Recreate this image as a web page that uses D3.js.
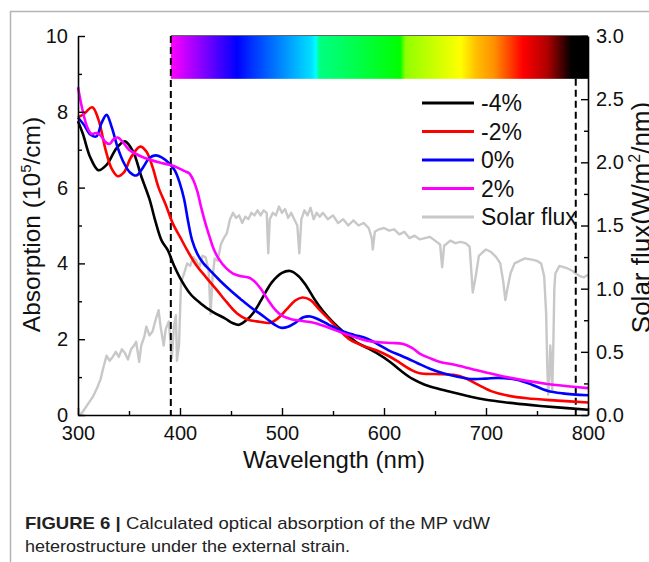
<!DOCTYPE html>
<html><head><meta charset="utf-8">
<script src="https://cdn.jsdelivr.net/npm/d3@7"></script>
<style>body{margin:0;background:#fff;} svg{display:block;font-family:'Liberation Sans',Arial,sans-serif;}</style>
</head><body>
<svg id="chart" width="649" height="562"></svg>
<script>
// ---------- data ----------
const wavelengthTicks = [300, 400, 500, 600, 700, 800];
const wavelengthMinor = [350, 450, 550, 650, 750];
const absorptionTicks = [0, 2, 4, 6, 8, 10];
const absorptionMinor = [1, 3, 5, 7, 9];
const fluxTicks = [0, 0.5, 1.0, 1.5, 2.0, 2.5, 3.0];
const fluxMinor = [0.25, 0.75, 1.25, 1.75, 2.25, 2.75];

const seriesNames = ["-4%", "-2%", "0%", "2%"];
const seriesColors = ["#000000", "#ff0000", "#0000ff", "#ff00ff"];

const strainM4 = [[300,7.75],[305,7.4],[312,6.8],[320,6.46],[328,6.6],[338,7.05],[346,7.22],[354,6.95],[362,6.3],[370,5.7],[376,5.1],[382,4.6],[388,4.35],[394,3.95],[400,3.62],[410,3.2],[420,2.95],[432,2.72],[444,2.55],[452,2.42],[458,2.38],[465,2.5],[472,2.7],[480,3.05],[490,3.5],[500,3.75],[508,3.8],[516,3.67],[524,3.4],[532,3.05],[540,2.75],[550,2.45],[560,2.2],[573,1.92],[585,1.75],[595,1.6],[606,1.4],[616,1.18],[628,0.95],[640,0.8],[655,0.68],[670,0.58],[685,0.48],[700,0.4],[720,0.33],[745,0.26],[770,0.2],[800,0.14]];
const strainM2 = [[300,7.85],[306,7.95],[314,8.12],[320,7.8],[327,7.0],[333,6.5],[339,6.3],[345,6.4],[352,6.8],[361,7.08],[367,6.95],[373,6.55],[379,6.0],[386,5.55],[393,5.05],[400,4.7],[407,4.35],[416,3.95],[426,3.62],[436,3.3],[446,2.97],[456,2.68],[466,2.52],[478,2.46],[488,2.43],[496,2.55],[505,2.8],[513,3.02],[520,3.1],[528,3.03],[536,2.8],[547,2.5],[557,2.22],[567,1.98],[580,1.82],[593,1.7],[605,1.55],[616,1.37],[626,1.2],[635,1.1],[650,1.08],[668,1.06],[680,0.97],[692,0.8],[705,0.63],[720,0.52],[740,0.44],[770,0.38],[800,0.33]];
const strain0 = [[300,7.85],[306,7.65],[312,7.4],[318,7.35],[323,7.7],[328,7.92],[333,7.6],[339,7.05],[345,6.65],[351,6.4],[357,6.32],[363,6.5],[370,6.78],[376,6.85],[382,6.8],[389,6.65],[395,6.45],[400,6.1],[404,5.7],[408,5.1],[412,4.6],[417,4.25],[423,4.0],[429,3.83],[439,3.55],[449,3.3],[459,3.07],[469,2.85],[478,2.68],[486,2.52],[493,2.38],[499,2.3],[506,2.33],[514,2.45],[521,2.58],[528,2.6],[536,2.52],[546,2.38],[557,2.24],[570,2.12],[583,2.02],[595,1.85],[605,1.7],[618,1.55],[632,1.38],[645,1.22],[658,1.1],[670,1.02],[685,0.95],[700,0.96],[712,0.98],[730,0.93],[745,0.8],[760,0.64],[775,0.57],[800,0.52]];
const strainP2 = [[300,8.65],[304,8.1],[309,7.6],[313,7.42],[318,7.44],[322,7.38],[327,7.2],[331,7.15],[335,7.28],[339,7.32],[344,7.2],[350,7.0],[356,6.9],[362,6.82],[370,6.74],[380,6.66],[390,6.6],[398,6.52],[404,6.44],[409,6.38],[413,6.2],[417,5.9],[421,5.45],[425,5.05],[429,4.7],[433,4.38],[438,4.12],[445,3.88],[452,3.73],[460,3.66],[468,3.62],[474,3.5],[480,3.3],[486,3.05],[492,2.82],[500,2.62],[510,2.52],[520,2.48],[530,2.44],[540,2.36],[550,2.26],[560,2.16],[572,2.05],[583,1.96],[595,1.92],[608,1.9],[618,1.88],[627,1.78],[635,1.62],[645,1.5],[655,1.4],[668,1.33],[685,1.22],[700,1.12],[720,1.0],[740,0.9],[760,0.82],[780,0.76],[800,0.71]];
const solarFlux = [[302,0.0],[305,0.03],[310,0.09],[315,0.15],[319,0.22],[322,0.28],[325,0.38],[328,0.47],[331,0.43],[334,0.46],[337,0.5],[340,0.46],[343,0.52],[346,0.49],[349,0.44],[352,0.52],[355,0.55],[357,0.58],[360,0.42],[362,0.55],[365,0.62],[367,0.7],[370,0.63],[373,0.66],[376,0.75],[379,0.83],[381,0.7],[384,0.55],[386,0.68],[389,0.74],[392,0.45],[394,0.7],[396,0.79],[397,0.43],[399,0.55],[401,1.05],[404,1.12],[407,1.2],[410,1.18],[413,1.25],[416,1.22],[419,1.17],[422,1.26],[425,1.25],[428,1.15],[430,0.8],[432,1.1],[434,1.24],[437,1.22],[440,1.35],[443,1.4],[446,1.44],[449,1.55],[452,1.6],[455,1.56],[458,1.58],[461,1.52],[464,1.57],[467,1.55],[470,1.6],[473,1.58],[476,1.62],[479,1.58],[482,1.62],[485,1.6],[486.5,1.28],[488,1.55],[491,1.6],[494,1.58],[497,1.65],[500,1.6],[503,1.63],[506,1.56],[509,1.6],[512,1.55],[515,1.5],[517,1.28],[519,1.55],[522,1.62],[525,1.58],[528,1.64],[531,1.55],[534,1.6],[537,1.57],[540,1.6],[545,1.55],[550,1.58],[555,1.52],[560,1.55],[565,1.5],[570,1.54],[575,1.5],[580,1.52],[585,1.48],[588,1.4],[589,1.31],[591,1.45],[595,1.47],[600,1.48],[605,1.46],[610,1.47],[615,1.43],[620,1.45],[625,1.4],[630,1.42],[635,1.39],[640,1.4],[645,1.41],[650,1.38],[655,1.35],[657,1.17],[659,1.34],[665,1.38],[670,1.36],[675,1.37],[680,1.36],[684,1.33],[687,0.97],[690,1.1],[693,1.26],[697,1.29],[700,1.31],[705,1.29],[710,1.25],[714,1.2],[717,1.05],[719,0.91],[721,1.0],[724,1.12],[728,1.2],[733,1.22],[738,1.24],[745,1.23],[750,1.22],[754,1.2],[757,1.1],[759,0.8],[760,0.4],[761,0.16],[762,0.3],[763,0.55],[764,0.42],[765,0.2],[766,0.55],[767,1.0],[768,1.12],[772,1.18],[776,1.17],[780,1.16],[785,1.14],[788,1.12],[792,1.1],[796,1.09],[800,1.11]];

const visibleRange = [391, 788];          // dashed boundaries (nm)
const spectrumStops = [391, 456, 470, 529, 533, 537, 560, 616, 621, 675, 690, 708, 736, 760, 784, 800];
const spectrumColors = ["#ff00ff","#0000ff","#0030ff","#00e0ff","#00ffff","#00ff80","#00ff60","#00ff00","#90ff00","#ffff00","#ffc000","#ff9000","#ff0000","#b00000","#000000","#000000"];
const spectrumBottom = 8.87;               // absorption units

// ---------- layout ----------
const svg = d3.select("#chart");
const L = 78, R = 588, T = 36, B = 415;
const x = d3.scaleLinear().domain([300, 800]).range([L, R]);
const y = d3.scaleLinear().domain([0, 10]).range([B, T]);
const y2 = d3.scaleLinear().domain([0, 3]).range([B, T]);

// frame
svg.append("line").attr("x1",10).attr("x2",649).attr("y1",11.5).attr("y2",11.5).attr("stroke","#b4b4b4").attr("stroke-width",1.5);
svg.append("line").attr("x1",10.5).attr("x2",10.5).attr("y1",11).attr("y2",562).attr("stroke","#b4b4b4").attr("stroke-width",1.5);

// spectrum bar
const defs = svg.append("defs");
const grad = defs.append("linearGradient").attr("id","spec").attr("gradientUnits","userSpaceOnUse")
  .attr("x1", x(spectrumStops[0])).attr("x2", x(800)).attr("y1",0).attr("y2",0);
spectrumStops.forEach((s,i)=>{
  grad.append("stop").attr("offset",(s-spectrumStops[0])/(800-spectrumStops[0])).attr("stop-color",spectrumColors[i]);
});
svg.append("rect").attr("x", x(visibleRange[0])).attr("y", y(10)).attr("width", x(800)-x(visibleRange[0]))
  .attr("height", y(spectrumBottom)-y(10)).attr("fill","url(#spec)");
svg.append("line").attr("x1", x(visibleRange[0])).attr("x2", R).attr("y1", T-0.5).attr("y2", T-0.5).attr("stroke","#666").attr("stroke-width",1);

// solar flux
svg.append("path").datum(solarFlux)
  .attr("d", d3.line().x(d=>x(d[0])).y(d=>y2(d[1])))
  .attr("fill","none").attr("stroke","#c8c8c8").attr("stroke-width",2.4).attr("stroke-linejoin","round");

// dashed lines
svg.append("line").attr("x1",x(visibleRange[0])).attr("x2",x(visibleRange[0])).attr("y1",T).attr("y2",B)
  .attr("stroke","#000").attr("stroke-width",2).attr("stroke-dasharray","7,4");
svg.append("line").attr("x1",x(visibleRange[1])).attr("x2",x(visibleRange[1])).attr("y1",y(spectrumBottom)).attr("y2",B)
  .attr("stroke","#000").attr("stroke-width",2).attr("stroke-dasharray","7,4");

// strain curves
const curveLine = d3.line().x(d=>x(d[0])).y(d=>y(d[1])).curve(d3.curveCatmullRom.alpha(0.5));
[strainM4, strainM2, strain0, strainP2].forEach((s,i)=>{
  svg.append("path").datum(s).attr("d", curveLine).attr("fill","none")
    .attr("stroke", seriesColors[i]).attr("stroke-width",2.6);
});

// axes
const fontSize = 20;
function styleAxis(g){
  g.selectAll("path.domain").attr("stroke","#000").attr("stroke-width",1.6);
  g.selectAll(".tick line").attr("stroke","#000").attr("stroke-width",1.4);
  g.selectAll(".tick text").attr("font-size",fontSize).attr("font-family","'Liberation Sans',Arial,sans-serif").attr("fill","#111");
}
svg.append("g").attr("transform",`translate(0,${B})`)
  .call(d3.axisBottom(x).tickValues(wavelengthTicks).tickSize(-7).tickSizeOuter(0).tickPadding(11).tickFormat(d3.format("d")))
  .call(styleAxis);
svg.append("g").attr("transform",`translate(0,${B})`)
  .call(d3.axisBottom(x).tickValues(wavelengthMinor).tickSize(-4).tickSizeOuter(0).tickFormat(""))
  .call(styleAxis).select("path.domain").remove();
svg.append("g").attr("transform",`translate(${L},0)`)
  .call(d3.axisLeft(y).tickValues(absorptionTicks).tickSize(-7).tickSizeOuter(0).tickPadding(10).tickFormat(d3.format("d")))
  .call(styleAxis);
svg.append("g").attr("transform",`translate(${L},0)`)
  .call(d3.axisLeft(y).tickValues(absorptionMinor).tickSize(-4).tickSizeOuter(0).tickFormat(""))
  .call(styleAxis).select("path.domain").remove();
svg.append("g").attr("transform",`translate(${R},0)`)
  .call(d3.axisRight(y2).tickValues(fluxTicks).tickSize(-7).tickSizeOuter(0).tickPadding(8).tickFormat(d3.format(".1f")))
  .call(styleAxis);
svg.append("g").attr("transform",`translate(${R},0)`)
  .call(d3.axisRight(y2).tickValues(fluxMinor).tickSize(-4).tickSizeOuter(0).tickFormat(""))
  .call(styleAxis).select("path.domain").remove();

// axis titles
svg.append("text").attr("x", (L+R)/2 + 1).attr("y", 468).attr("text-anchor","middle")
  .attr("font-size",24).attr("fill","#111").text("Wavelength (nm)");
const yt = svg.append("text").attr("transform",`translate(40,${(T+B)/2-1}) rotate(-90)`).attr("text-anchor","middle")
  .attr("font-size",24.5).attr("fill","#111");
yt.append("tspan").text("Absorption (10");
yt.append("tspan").attr("font-size",15).attr("dy",-9).text("5");
yt.append("tspan").attr("dy",9).text("/cm)");
const rt = svg.append("text").attr("transform",`translate(650,${(T+B)/2-8}) rotate(-90)`).attr("text-anchor","middle")
  .attr("font-size",26).attr("fill","#111");
rt.append("tspan").text("Solar flux(W/m");
rt.append("tspan").attr("font-size",16).attr("dy",-10).text("2");
rt.append("tspan").attr("dy",10).text("/nm)");

// legend
const legendItems = seriesNames.map((n,i)=>({name:n,color:seriesColors[i]})).concat([{name:"Solar flux",color:"#c8c8c8"}]);
const lg = svg.append("g");
legendItems.forEach((d,i)=>{
  const yy = 103 + i*28.5;
  lg.append("line").attr("x1",422).attr("x2",474).attr("y1",yy).attr("y2",yy).attr("stroke",d.color).attr("stroke-width",3);
  lg.append("text").attr("x",481).attr("y",yy).attr("dy","0.35em").attr("font-size",23).attr("fill","#111").text(d.name);
});

// caption
const c1 = svg.append("text").attr("x",25).attr("y",529).attr("font-size",17).attr("fill","#222")
  .attr("font-family","'Liberation Sans Narrow','Arial Narrow','Liberation Sans',Arial,sans-serif")
  .attr("textLength",465).attr("lengthAdjust","spacingAndGlyphs");
c1.append("tspan").attr("font-weight","bold").text("FIGURE 6 | ");
c1.append("tspan").text("Calculated optical absorption of the MP vdW");
svg.append("text").attr("x",25).attr("y",552).attr("font-size",17).attr("fill","#222")
  .attr("font-family","'Liberation Sans Narrow','Arial Narrow','Liberation Sans',Arial,sans-serif")
  .attr("textLength",325).attr("lengthAdjust","spacingAndGlyphs")
  .text("heterostructure under the external strain.");
</script>
</body></html>
